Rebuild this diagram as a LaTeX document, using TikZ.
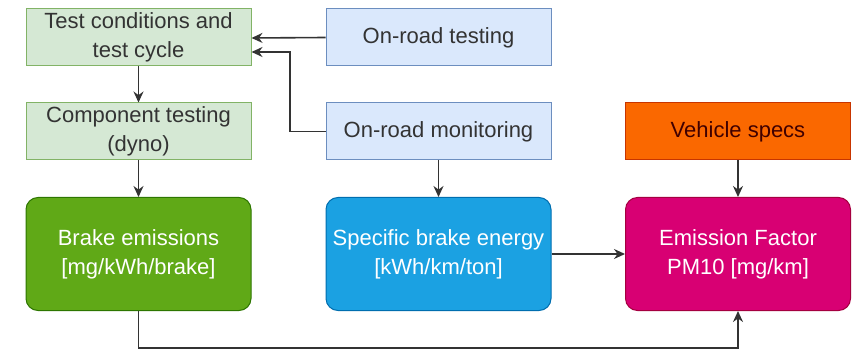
\documentclass[tikz,border=0pt]{standalone}
\usepackage{fontspec}
\setmainfont{Liberation Sans}
\usetikzlibrary{arrows.meta}
\definecolor{lgfill}{HTML}{D5E8D4}
\definecolor{lgdraw}{HTML}{82B366}
\definecolor{lbfill}{HTML}{DAE8FC}
\definecolor{lbdraw}{HTML}{6C8EBF}
\definecolor{orfill}{HTML}{FA6800}
\definecolor{ordraw}{HTML}{C73500}
\definecolor{grfill}{HTML}{60A917}
\definecolor{grdraw}{HTML}{2D7600}
\definecolor{blfill}{HTML}{1BA1E2}
\definecolor{bldraw}{HTML}{006EAF}
\definecolor{pkfill}{HTML}{D80073}
\definecolor{pkdraw}{HTML}{A50040}
\definecolor{linec}{HTML}{333333}
\tikzset{
  base/.style={minimum width=225pt, align=center, font=\fontsize{22}{29}\selectfont, line width=1pt, inner sep=0pt},
  small/.style={base, minimum height=57pt},
  big/.style={base, minimum height=113pt, rounded corners=12pt},
  greenbox/.style={small, fill=lgfill, draw=lgdraw, text=black!80},
  bluebox/.style={small, fill=lbfill, draw=lbdraw, text=black!80},
  orangebox/.style={small, fill=orfill, draw=ordraw, text=black!75!red},
  greenbig/.style={big, fill=grfill, draw=grdraw, text=white},
  bluebig/.style={big, fill=blfill, draw=bldraw, text=white},
  pinkbig/.style={big, fill=pkfill, draw=pkdraw, text=white},
  conn/.style={draw=linec, line width=1.6pt, -{Stealth[length=11pt,width=10pt]}},
}
\begin{document}
\begin{tikzpicture}[x=1pt,y=-1pt]
\useasboundingbox (0,0) rectangle (853,352);
% upper input boxes
\node[greenbox] (cond) at (138.5,37.5) {Test conditions and\\test cycle};
\node[greenbox] (comp) at (138.5,131.5) {Component testing\\(dyno)};
\node[bluebox] (ontest) at (438.5,37.5) {On-road testing};
\node[bluebox] (onmon) at (438.5,131.5) {On-road monitoring};
\node[orangebox] (veh) at (738,131.5) {Vehicle specs};
% result boxes
\node[greenbig] (brake) at (138.5,254) {Brake emissions\\{[mg/kWh/brake]}};
\node[bluebig] (energy) at (438.5,254) {Specific brake energy\\{[kWh/km/ton]}};
\node[pinkbig] (ef) at (738,254) {Emission Factor\\PM10 [mg/km]};
% connectors
\coordinate (bend) at (290,131.5);
\draw[conn] (ontest.west) -- (cond.east |- 0,38);
\draw[conn] (onmon.west) -- (bend) |- (cond.east |- 0,52);
\draw[conn] (cond) -- (comp);
\draw[conn] (comp) -- (brake);
\draw[conn] (onmon) -- (energy);
\draw[conn] (veh) -- (ef);
\draw[conn] (energy) -- (ef);
\draw[conn] (brake.south) -- ++(0,37) -| (ef.south);
\end{tikzpicture}
\end{document}
